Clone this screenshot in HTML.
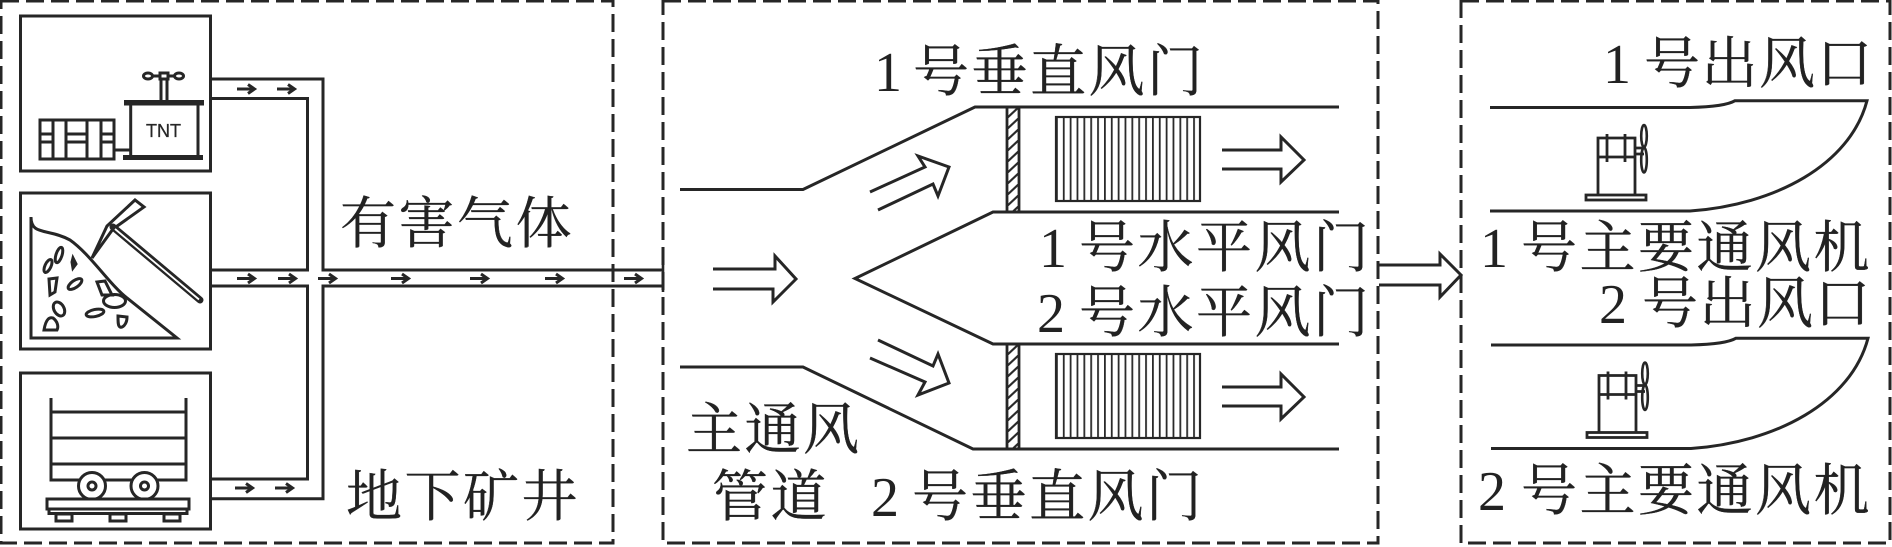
<!DOCTYPE html>
<html lang="zh">
<head>
<meta charset="utf-8">
<title>通风系统示意图</title>
<style>
html,body{margin:0;padding:0;background:#fff;width:1892px;height:547px;overflow:hidden}
svg{display:block}
.t{font-family:"Liberation Serif","Noto Serif CJK SC",serif;font-size:56px;fill:#222;stroke:#222;stroke-width:.35px}
.n{font-family:"Liberation Serif",serif;font-size:56px;fill:#222}
</style>
</head>
<body>
<svg width="1892" height="547" viewBox="0 0 1892 547" xmlns="http://www.w3.org/2000/svg">
<defs>
<pattern id="hatch" patternUnits="userSpaceOnUse" x="1007" y="107" width="12" height="11">
<path d="M-1 12 L13 -1" stroke="#2a2a2a" stroke-width="2.200"/>
</pattern>
<pattern id="grill" patternUnits="userSpaceOnUse" x="1056" y="0" width="6.857" height="10">
<path d="M0 0V10" stroke="#2a2a2a" stroke-width="3.600"/>
</pattern>
<g id="sa"><path d="M0 0H17M11 -4.500L17.500 0L11 4.500" fill="none" stroke="#262626" stroke-width="3"/></g>
<g id="fan" fill="none" stroke="#262626">
<path d="M1490 107.500H1690C1710 107 1728 105 1735 100.700H1867C1850 165 1775 205 1690 211H1490" stroke-width="3"/>
<path d="M1598 195V138H1635V195M1598 157H1635M1607 134V162M1625 134V162M1635 148H1644M1635 154H1644" stroke-width="2.800"/>
<rect x="1586" y="195" width="60" height="5" stroke-width="2.800"/>
<ellipse cx="1644" cy="136" rx="2.800" ry="11" stroke-width="2.600"/>
<ellipse cx="1644" cy="160" rx="2.800" ry="12.500" stroke-width="2.600"/>
</g>
<g id="duct" fill="none" stroke="#262626">
<rect x="1007" y="107" width="12" height="105" fill="url(#hatch)" stroke-width="2.800"/>
<rect x="1056" y="117" width="144" height="84" fill="url(#grill)" stroke-width="2.200"/>
<path d="M1222 150H1281V137L1304 160L1281 182V169H1222" stroke-width="3"/>
</g>
</defs>
<rect width="1892" height="547" fill="#fff"/>

<!-- Dashed boxes -->
<g fill="none" stroke="#262626" stroke-width="3" stroke-dasharray="18 7">
<rect x="1" y="1" width="612" height="542"/>
<rect x="663" y="1" width="715" height="542"/>
<rect x="1461" y="1" width="429" height="542"/>
</g>

<!-- Pipes -->
<g fill="none" stroke="#262626" stroke-width="3">
<path d="M211 79H323V270H663"/>
<path d="M211 98.500H307.500V270H211"/>
<path d="M211 286H307.500V479H211"/>
<path d="M211 498.700H323V286H663"/>
<path d="M663 262V292" stroke-width="2.600"/>
</g>
<use href="#sa" x="237" y="89"/><use href="#sa" x="277" y="89"/>
<use href="#sa" x="237" y="278.500"/><use href="#sa" x="278" y="278.500"/><use href="#sa" x="318" y="278.500"/>
<use href="#sa" x="391" y="278.500"/><use href="#sa" x="470" y="278.500"/><use href="#sa" x="545" y="278.500"/><use href="#sa" x="624" y="278.500"/>
<use href="#sa" x="235" y="488"/><use href="#sa" x="275" y="488"/>

<!-- Box 1 -->
<g fill="none" stroke="#262626" stroke-width="3">
<rect x="20.500" y="16" width="190" height="155"/>
<rect x="40" y="120" width="74" height="39"/>
<path d="M53 120V159M66 120V159M87 120V159M101 120V159M40 134H53M40 142H53M66 134H87M66 142H87M101 134H114M101 142H114M114 150H131M130.700 105V156M198 105V156M161 79V100M167 79V100M152 76H175"/>
<rect x="160" y="73" width="8" height="6" fill="#fff"/>
<ellipse cx="148" cy="76" rx="4.500" ry="3" fill="#fff"/>
<ellipse cx="179" cy="76" rx="4.500" ry="3" fill="#fff"/>
</g>
<rect x="124" y="100" width="80" height="5.500" fill="#262626"/>
<rect x="123" y="155" width="80" height="5" fill="#262626"/>
<text x="163.500" y="137" font-family="Liberation Sans, sans-serif" font-size="18" fill="#262626" stroke="#262626" stroke-width=".3" text-anchor="middle">TNT</text>

<!-- Box 2 -->
<g fill="none" stroke="#262626" stroke-width="3">
<rect x="20.500" y="193" width="190" height="156"/>
<path d="M31 217C31 236 48 228 70 240C90 254 110 285 127 298L177 338H31Z"/>
<path d="M92 258L107 226L135 200L144 207L113 229Z"/>
<ellipse cx="114.500" cy="301" rx="11" ry="6.500" fill="#fff"/>
<path d="M97 282L105 281L112 295L102 295Z"/>
<path d="M49 279L57 278L55 292L50 295Z"/>
<ellipse cx="48" cy="266" rx="3" ry="7" transform="rotate(25 48 266)"/>
<ellipse cx="59" cy="255" rx="3" ry="8" transform="rotate(18 59 255)"/>
<ellipse cx="75" cy="284" rx="3.500" ry="8" transform="rotate(55 75 284)"/>
<ellipse cx="59" cy="309" rx="5" ry="7.500" transform="rotate(-30 59 309)"/>
<ellipse cx="95" cy="313" rx="9" ry="3.500" transform="rotate(-12 95 313)"/>
<path d="M118 316L127 317C127 325 122 328 120 327C118 326 118 322 118 316Z"/>
<path d="M44 330C46 318 50 317 53 318C57 321 59 326 57 330Z"/>
<path d="M73 258L76 264L73 268L72 262Z" fill="#262626"/>
</g>
<path d="M113 227L200 300" fill="none" stroke="#262626" stroke-width="7" stroke-linecap="round"/>
<path d="M115 229L199 299.500" fill="none" stroke="#fff" stroke-width="1.800"/>

<!-- Box 3 -->
<g fill="none" stroke="#262626" stroke-width="3">
<rect x="20.500" y="373" width="190" height="156"/>
<path d="M51 398V480H186V398M51 412H187M51 438H187M51 464H187"/>
<circle cx="92" cy="486" r="13.500" fill="#fff"/><circle cx="92" cy="486" r="4"/>
<circle cx="144.500" cy="486" r="13.500" fill="#fff"/><circle cx="144.500" cy="486" r="4"/>
<rect x="47" y="499" width="142" height="10" fill="#fff"/>
<rect x="49" y="509" width="138" height="4.500"/>
<rect x="56" y="514" width="16" height="7"/><rect x="110" y="514" width="16" height="7"/><rect x="164" y="514" width="16" height="7"/>
</g>

<!-- Central ducts -->
<g fill="none" stroke="#262626" stroke-width="3">
<path d="M680 189.500H803L975 107H1339"/>
<path d="M1339 212H993L855 278.500L993 344H1339"/>
<path d="M680 367H803L973 449H1339"/>
<path d="M713 269H775V256L796 279L773 302V289H713"/>
<path d="M870 192L925 167L918 156L949 167L938 196L933 184L878 210"/>
<path d="M878 340L933 366L938 354L949 383L918 395L925 382L870 358"/>
<path d="M1379 265H1440V254L1461 275L1440 297V285H1379"/>
</g>
<use href="#duct"/>
<use href="#duct" y="237"/>

<!-- Right fans -->
<use href="#fan"/>
<use href="#fan" x="1" y="237.500"/>

<!-- Labels -->
<g>
<text class="n" x="874" y="91">1</text>
<text class="t" x="913" y="91" letter-spacing="2.500">号垂直风门</text>
<text class="n" x="871" y="516">2</text>
<text class="t" x="912" y="516" letter-spacing="2.500">号垂直风门</text>
<text class="t" x="340" y="243" letter-spacing="2.500">有害气体</text>
<text class="t" x="346" y="516" letter-spacing="2.500">地下矿井</text>
<text class="n" x="1039" y="267">1</text>
<text class="t" x="1079" y="267" letter-spacing="2.500">号水平风门</text>
<text class="n" x="1037" y="332">2</text>
<text class="t" x="1079" y="332" letter-spacing="2.500">号水平风门</text>
<text class="t" x="686" y="449" letter-spacing="2.500">主通风</text>
<text class="t" x="712" y="516" letter-spacing="2.500">管道</text>
<text class="n" x="1603" y="83">1</text>
<text class="t" x="1644" y="83" letter-spacing="1.500">号出风口</text>
<text class="n" x="1480" y="267">1</text>
<text class="t" x="1521" y="267" letter-spacing="2.500">号主要通风机</text>
<text class="n" x="1599" y="323">2</text>
<text class="t" x="1642" y="323" letter-spacing="1.500">号出风口</text>
<text class="n" x="1478" y="510">2</text>
<text class="t" x="1521" y="510" letter-spacing="2.500">号主要通风机</text>
</g>
</svg>
</body>
</html>
